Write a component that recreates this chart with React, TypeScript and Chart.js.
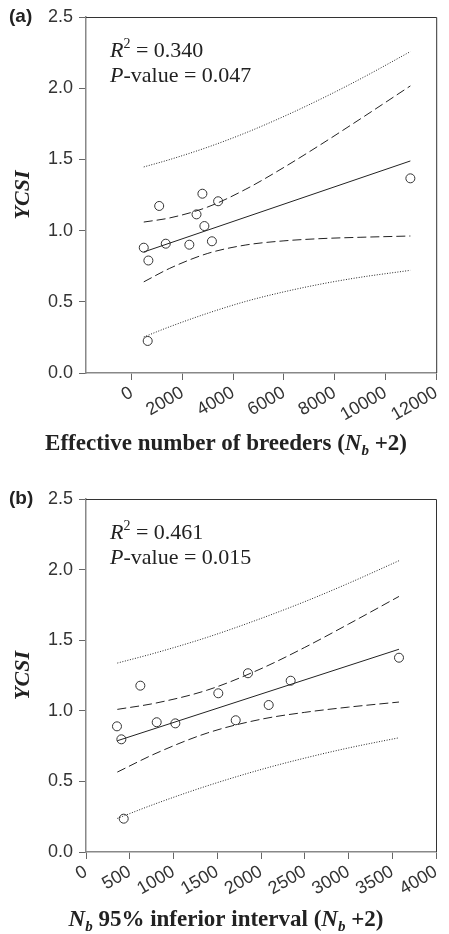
import React, { useEffect, useRef } from "react";
import { Chart, registerables } from "chart.js";
Chart.register(...registerables);

const SANS = '"Liberation Sans", Arial, sans-serif';
const SERIF = '"Liberation Serif", "Times New Roman", serif';

// ---------- Panel (a) data ----------
const aX = [476, 658, 1084, 1343, 2272, 2555, 2787, 2865, 3162, 3406, 631, 10982];
const aY = [0.88, 0.79, 1.173, 0.908, 0.901, 1.114, 1.259, 1.032, 0.925, 1.206, 0.225, 1.367];
const aFitX = [476, 10982];
const aFitY = [0.85, 1.489];
const aBandX = [476, 1500, 3000, 4500, 6000, 7500, 9000, 10982];
const aConfUp = [1.06, 1.089, 1.166, 1.291, 1.444, 1.61, 1.783, 2.016];
const aConfLo = [0.64, 0.735, 0.84, 0.899, 0.928, 0.944, 0.953, 0.962];
const aPredUp = [1.447, 1.499, 1.586, 1.687, 1.802, 1.928, 2.064, 2.257];
const aPredLo = [0.253, 0.325, 0.42, 0.503, 0.57, 0.626, 0.672, 0.721];
const aXTicks = [0, 2000, 4000, 6000, 8000, 10000, 12000];

// ---------- Panel (b) data ----------
const bX = [354, 404, 621, 808, 1021, 1512, 1851, 2088, 1711, 2339, 431, 3577];
const bY = [0.89, 0.798, 1.178, 0.919, 0.911, 1.124, 1.266, 1.041, 0.933, 1.213, 0.236, 1.376];
const bFitX = [358, 3577];
const bFitY = [0.788, 1.436];
const bBandX = [358, 800, 1393, 2000, 2500, 3000, 3577];
const bConfUp = [1.01, 1.055, 1.148, 1.298, 1.449, 1.614, 1.81];
const bConfLo = [0.566, 0.699, 0.844, 0.94, 0.989, 1.026, 1.062];
const bPredUp = [1.338, 1.411, 1.522, 1.654, 1.773, 1.903, 2.063];
const bPredLo = [0.238, 0.343, 0.47, 0.584, 0.665, 0.737, 0.809];
const bXTicks = [0, 500, 1000, 1500, 2000, 2500, 3000, 3500, 4000];

const yTicks = [0, 0.5, 1.0, 1.5, 2.0, 2.5];

type Seg = { t: string; f: string; dy?: number };

function drawRich(ctx: CanvasRenderingContext2D, segs: Seg[], x: number, y: number, align: "left" | "center") {
  let total = 0;
  const widths = segs.map((s) => {
    ctx.font = s.f;
    const w = ctx.measureText(s.t).width;
    total += w;
    return w;
  });
  let cx = align === "center" ? x - total / 2 : x;
  segs.forEach((s, i) => {
    ctx.font = s.f;
    ctx.fillText(s.t, cx, y + (s.dy || 0));
    cx += widths[i];
  });
}

const decor = {
  id: "decor",
  afterDraw(chart: any, _args: any, opts: any) {
    const { ctx, chartArea: ca } = chart;
    ctx.save();
    ctx.strokeStyle = "#333";
    ctx.lineWidth = 1;
    ctx.beginPath();
    ctx.moveTo(ca.left, ca.top + 0.5);
    ctx.lineTo(ca.right + 0.5, ca.top + 0.5);
    ctx.lineTo(ca.right + 0.5, ca.bottom);
    ctx.stroke();

    ctx.fillStyle = "#222";
    ctx.textAlign = "left";
    ctx.textBaseline = "middle";
    ctx.font = `bold 19px ${SANS}`;
    ctx.fillText(opts.panel, 9, ca.top);

    ctx.textBaseline = "alphabetic";
    const it = `italic 22px ${SERIF}`;
    const rg = `22px ${SERIF}`;
    drawRich(ctx, [
      { t: "R", f: it },
      { t: "2", f: `14px ${SERIF}`, dy: -9 },
      { t: " = " + opts.r2, f: rg },
    ], ca.left + 24, ca.top + 40, "left");
    drawRich(ctx, [
      { t: "P", f: it },
      { t: "-value = " + opts.p, f: rg },
    ], ca.left + 24, ca.top + 65, "left");

    drawRich(ctx, opts.xTitle, 226, opts.titleY, "center");

    ctx.translate(23, (ca.top + ca.bottom) / 2);
    ctx.rotate(-Math.PI / 2);
    ctx.textAlign = "center";
    ctx.textBaseline = "middle";
    ctx.font = `bold italic 22px ${SERIF}`;
    ctx.fillText("YCSI", 0, 0);
    ctx.restore();
  },
};

function lineDs(xs: number[], ys: number[], dash: number[], width: number) {
  return {
    data: xs.map((x, i) => ({ x, y: ys[i] })),
    showLine: true,
    pointRadius: 0,
    borderColor: "#222",
    borderWidth: width,
    borderDash: dash,
    tension: 0.4,
    cubicInterpolationMode: "monotone",
    fill: false,
  };
}

function buildConfig(p: any) {
  return {
    type: "scatter",
    data: {
      datasets: [
        lineDs(p.bandX, p.predUp, [1, 1.6], 1),
        lineDs(p.bandX, p.predLo, [1, 1.6], 1),
        lineDs(p.bandX, p.confUp, [9, 4], 1),
        lineDs(p.bandX, p.confLo, [9, 4], 1),
        lineDs(p.fitX, p.fitY, [], 1),
        {
          data: p.xs.map((x: number, i: number) => ({ x, y: p.ys[i] })),
          showLine: false,
          pointRadius: 4.5,
          pointStyle: "circle",
          borderColor: "#333",
          backgroundColor: "rgba(255,255,255,0)",
          borderWidth: 1,
        },
      ],
    },
    options: {
      responsive: false,
      animation: false,
      devicePixelRatio: 1,
      layout: { padding: { left: 0, top: p.padTop, right: p.padRight, bottom: 0 } },
      plugins: {
        legend: { display: false },
        tooltip: { enabled: false },
        decor: { panel: p.panel, r2: p.r2, p: p.p, xTitle: p.xTitle, titleY: p.titleY },
      },
      scales: {
        x: {
          type: "linear",
          min: p.xMin,
          max: p.xMax,
          afterBuildTicks: (s: any) => {
            s.ticks = p.xTicks.map((v: number) => ({ value: v }));
          },
          afterFit: (s: any) => {
            s.height = p.xHeight;
          },
          grid: { drawOnChartArea: false, drawTicks: true, tickLength: 7, color: "#666", lineWidth: 1 },
          border: { display: true, color: "#888", width: 1.5 },
          ticks: {
            color: "#333",
            font: { family: SANS, size: 18 },
            minRotation: 30,
            maxRotation: 30,
            padding: 2,
            autoSkip: false,
            callback: (v: any) => String(v),
          },
        },
        y: {
          type: "linear",
          min: 0,
          max: 2.5,
          afterBuildTicks: (s: any) => {
            s.ticks = yTicks.map((v) => ({ value: v }));
          },
          afterFit: (s: any) => {
            s.width = 86;
          },
          grid: { drawOnChartArea: false, drawTicks: true, tickLength: 7, color: "#666", lineWidth: 1 },
          border: { display: true, color: "#888", width: 1.5 },
          ticks: {
            color: "#333",
            font: { family: SANS, size: 18 },
            padding: 6,
            callback: (v: any) => Number(v).toFixed(1),
          },
        },
      },
    },
    plugins: [decor],
  };
}

const B = "bold 23px " + SERIF;
const BI = "bold italic 23px " + SERIF;
const SUB = "bold italic 15px " + SERIF;

const panelA = {
  panel: "(a)", r2: "0.340", p: "0.047",
  xs: aX, ys: aY, fitX: aFitX, fitY: aFitY, bandX: aBandX,
  confUp: aConfUp, confLo: aConfLo, predUp: aPredUp, predLo: aPredLo,
  xTicks: aXTicks, xMin: -1800, xMax: 12000,
  padTop: 17, padRight: 7, xHeight: 94, titleY: 450,
  xTitle: [
    { t: "Effective number of breeders (", f: B },
    { t: "N", f: BI },
    { t: "b", f: SUB, dy: 5 },
    { t: " +2)", f: B },
  ],
};

const panelB = {
  panel: "(b)", r2: "0.461", p: "0.015",
  xs: bX, ys: bY, fitX: bFitX, fitY: bFitY, bandX: bBandX,
  confUp: bConfUp, confLo: bConfLo, predUp: bPredUp, predLo: bPredLo,
  xTicks: bXTicks, xMin: 0, xMax: 4000,
  padTop: 32, padRight: 13, xHeight: 82, titleY: 459,
  xTitle: [
    { t: "N", f: BI },
    { t: "b", f: SUB, dy: 5 },
    { t: " 95% inferior interval (", f: B },
    { t: "N", f: BI },
    { t: "b", f: SUB, dy: 5 },
    { t: " +2)", f: B },
  ],
};

function Panel({ p, top }: { p: any; top: number }) {
  const ref = useRef<HTMLCanvasElement | null>(null);
  useEffect(() => {
    if (!ref.current) return;
    const chart = new Chart(ref.current, buildConfig(p) as any);
    return () => chart.destroy();
  }, [p]);
  return (
    <canvas
      ref={ref}
      width={449}
      height={467}
      style={{ position: "absolute", left: 0, top, width: 449, height: 467, display: "block" }}
    />
  );
}

export default function App() {
  return (
    <div style={{ position: "absolute", left: 0, top: 0, width: 449, height: 934, background: "#fff" }}>
      <Panel p={panelA} top={0} />
      <Panel p={panelB} top={467} />
    </div>
  );
}
